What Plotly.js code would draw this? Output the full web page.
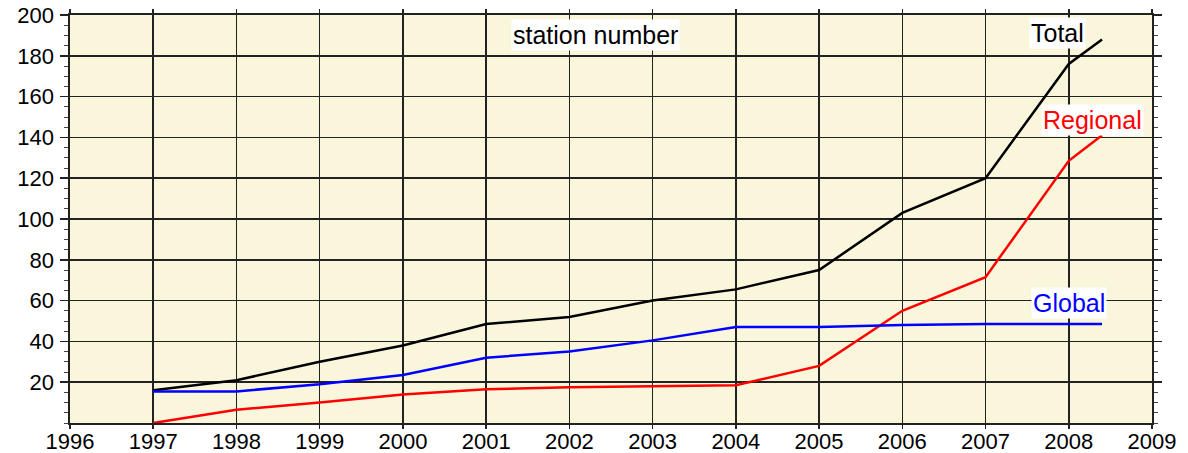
<!DOCTYPE html>
<html>
<head>
<meta charset="utf-8">
<script src="https://cdn.plot.ly/plotly-3.0.1.min.js"></script>
<style>html,body{margin:0;padding:0;background:#fff;}#chart{width:1188px;height:453px;}</style>
</head>
<body>
<div id="chart"></div>
<script>
const years = [1997, 1998, 1999, 2000, 2001, 2002, 2003, 2004, 2005, 2006, 2007, 2008, 2008.4];
const totalValues = [16, 21, 30, 38, 48.5, 52, 60, 65.5, 75, 103, 120, 176, 188];
const regionalValues = [0, 6.5, 10, 14, 16.5, 17.5, 18, 18.5, 28, 55, 71.5, 128.5, 141];
const globalValues = [15.5, 15.5, 19, 23.5, 32, 35, 40.5, 47, 47, 48, 48.5, 48.5, 48.5];
const xTicks = [1996, 1997, 1998, 1999, 2000, 2001, 2002, 2003, 2004, 2005, 2006, 2007, 2008, 2009];
const yTicks = [20, 40, 60, 80, 100, 120, 140, 160, 180, 200];
const seriesNames = ["Total", "Regional", "Global"];
const chartTitle = "station number";

const font = "Liberation Sans, Arial, sans-serif";
const traces = [
  {x: years, y: totalValues, name: seriesNames[0], mode: "lines", line: {color: "#000000", width: 2.5}},
  {x: years, y: regionalValues, name: seriesNames[1], mode: "lines", line: {color: "#ff0000", width: 2.5}},
  {x: years, y: globalValues, name: seriesNames[2], mode: "lines", line: {color: "#0000ff", width: 2.5}}
];
const layout = {
  width: 1188, height: 453,
  margin: {l: 70, r: 36, t: 15, b: 30},
  paper_bgcolor: "#ffffff",
  plot_bgcolor: "#faf6dc",
  showlegend: false,
  font: {family: font, size: 22, color: "#000"},
  xaxis: {
    range: [1996, 2009], tickvals: xTicks, ticktext: xTicks.map(String),
    showgrid: true, gridcolor: "#222222", gridwidth: 1.6,
    showline: true, linecolor: "#222222", linewidth: 1.6, mirror: "allticks",
    ticks: "outside", ticklen: 4, tickcolor: "#222222", tickwidth: 1.6,
    zeroline: false, tickfont: {size: 22, family: font}, ticklabelstandoff: -6
  },
  yaxis: {
    range: [0, 200], tickvals: yTicks, ticktext: yTicks.map(String),
    showgrid: true, gridcolor: "#222222", gridwidth: 1.6,
    showline: true, linecolor: "#222222", linewidth: 1.6, mirror: "allticks",
    ticks: "outside", ticklen: 8, tickcolor: "#222222", tickwidth: 1.6,
    minor: {dtick: 5, tick0: 0, ticks: "outside", ticklen: 4, tickcolor: "#444", tickwidth: 1, showgrid: false},
    zeroline: false, tickfont: {size: 22, family: font}, ticklabelstandoff: 2
  },
  annotations: [
    {x: 2002.31, y: 190.2, text: chartTitle, showarrow: false, bgcolor: "#ffffff", borderpad: 1, font: {size: 25, color: "#000", family: font}},
    {x: 2007.86, y: 191.2, text: seriesNames[0], showarrow: false, bgcolor: "#ffffff", borderpad: 1, font: {size: 25, color: "#000", family: font}},
    {x: 2008.28, y: 148.5, text: seriesNames[1], showarrow: false, bgcolor: "#ffffff", borderpad: 1, font: {size: 25, color: "#ff0000", family: font}},
    {x: 2008.0, y: 58.7, text: seriesNames[2], showarrow: false, bgcolor: "#ffffff", borderpad: 1, font: {size: 25, color: "#0000ff", family: font}}
  ]
};
Plotly.newPlot("chart", traces, layout, {staticPlot: true, displayModeBar: false});
</script>
</body>
</html>
